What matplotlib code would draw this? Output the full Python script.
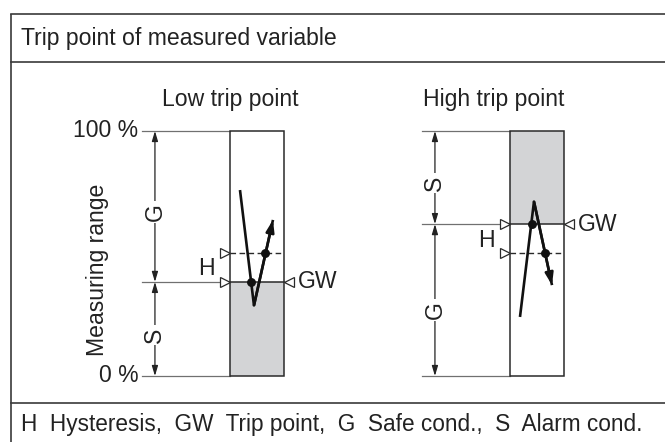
import matplotlib
matplotlib.use("Agg")
import matplotlib.pyplot as plt
from matplotlib.patches import Rectangle

plt.rcParams['font.family'] = ['Liberation Sans', 'DejaVu Sans']

# ---- data (y in % of measuring range, x in bar-width units) ----
header_text = "Trip point of measured variable"
footer_text = "H  Hysteresis,  GW  Trip point,  G  Safe cond.,  S  Alarm cond."
range_ticks = [0, 100]
range_tick_labels = ["0 %", "100 %"]
axis_label = "Measuring range"

panel_titles = ["Low trip point", "High trip point"]
trip_points = [38.4, 62.0]          # GW
hysteresis_points = [50.2, 50.2]    # dashed level
alarm_is_below = [True, False]      # S region below / above GW
trend_x = [[0.185, 0.444, 0.796], [0.185, 0.444, 0.778]]
trend_y = [[75.9, 28.8, 63.7], [24.1, 71.2, 37.1]]
dot_x = [[0.389, 0.655], [0.407, 0.648]]
dot_y = [[38.4, 50.2], [62.0, 50.2]]
s_label_y = [16.7, 78.8]
g_label_y = [67.0, 26.9]
h_label_y = [44.0, 55.5]

W, H = 665, 442
fig = plt.figure(figsize=(W / 100, H / 100), dpi=100)

# background axes in pixel coordinates for the frame
bg = fig.add_axes([0, 0, 1, 1])
bg.set_xlim(0, W)
bg.set_ylim(H, 0)
bg.axis('off')
frame_col = '#3a3a3a'
bg.plot([11, 11], [14, H + 5], color=frame_col, lw=1.2, solid_capstyle='butt')
bg.plot([11, W + 5], [14, 14], color=frame_col, lw=1.2)
bg.plot([11, W + 5], [62, 62], color=frame_col, lw=1.2)
bg.plot([11, W + 5], [403, 403], color=frame_col, lw=1.2)
txt_col = '#222222'
fs = 16.6
bg.text(21, 39, header_text, fontsize=fs, color=txt_col, va='center', ha='left')
bg.text(21, 425, footer_text, fontsize=16.3, color=txt_col, va='center', ha='left')

gray_fill = '#d3d4d6'
bar_col = '#2a2a2a'
ref_col = '#707070'
bar_left_px = [230, 510]

for i in range(2):
    ax = fig.add_axes([bar_left_px[i] / W, 1 - 376 / H, 54 / W, 245 / H])
    ax.set_xlim(0, 1)
    ax.set_ylim(0, 100)
    ax.axis('off')
    gw = trip_points[i]
    hy = hysteresis_points[i]
    ref_x0 = -1.63
    dim_x = -1.39

    # grey alarm region
    if alarm_is_below[i]:
        ax.add_patch(Rectangle((0, 0), 1, gw, facecolor=gray_fill, edgecolor='none', clip_on=False))
    else:
        ax.add_patch(Rectangle((0, gw), 1, 100 - gw, facecolor=gray_fill, edgecolor='none', clip_on=False))
    # bar outline
    ax.add_patch(Rectangle((0, 0), 1, 100, facecolor='none', edgecolor=bar_col, lw=1.1, clip_on=False, zorder=3))

    # reference lines
    for yv in [range_ticks[0], range_ticks[1], gw]:
        ax.plot([ref_x0, 0], [yv, yv], color=ref_col, lw=0.9, clip_on=False)
    ax.plot([0, 1], [gw, gw], color=bar_col, lw=1.1, clip_on=False, zorder=3)
    ax.plot([0, 1], [hy, hy], color=bar_col, lw=1.0, ls=(0, (4, 2.5)), clip_on=False, zorder=3)

    # dimension arrows
    for (a, b) in [(0, gw), (gw, 100)]:
        ax.annotate('', xy=(dim_x, a), xytext=(dim_x, b),
                    arrowprops=dict(arrowstyle='<|-|>,head_length=0.6,head_width=0.18',
                                    color='#222222', lw=0.9, shrinkA=0, shrinkB=0),
                    annotation_clip=False)
    for lab, yv in [('S', s_label_y[i]), ('G', g_label_y[i])]:
        ax.text(dim_x, yv, lab, rotation=90, fontsize=fs, color=txt_col, ha='center', va='center',
                bbox=dict(facecolor='white', edgecolor='none', pad=1.5), clip_on=False)

    # open triangle markers
    ax.plot([-0.095], [gw], marker='>', ms=7.5, mfc='white', mec=bar_col, mew=0.9, clip_on=False, zorder=4)
    ax.plot([-0.095], [hy], marker='>', ms=7.5, mfc='white', mec=bar_col, mew=0.9, clip_on=False, zorder=4)
    ax.plot([1.095], [gw], marker='<', ms=7.5, mfc='white', mec=bar_col, mew=0.9, clip_on=False, zorder=4)

    ax.text(1.25, gw, 'GW', fontsize=fs, color=txt_col, ha='left', va='center', clip_on=False)
    ax.text(-0.44, h_label_y[i], 'H', fontsize=fs, color=txt_col, ha='center', va='center', clip_on=False)

    # trend line
    tx, ty = trend_x[i], trend_y[i]
    ax.plot(tx, ty, color='#111111', lw=1.9, solid_joinstyle='miter', solid_capstyle='butt',
            clip_on=False, zorder=5)
    ax.annotate('', xy=(tx[2], ty[2]), xytext=(tx[1], ty[1]),
                arrowprops=dict(arrowstyle='-|>,head_length=0.7,head_width=0.24',
                                color='#111111', lw=1.9, shrinkA=0, shrinkB=0),
                annotation_clip=False, zorder=5)
    ax.plot(dot_x[i], dot_y[i], 'o', color='#111111', ms=5.4, clip_on=False, zorder=6)

    # panel title
    title_x = 0.0 if i == 0 else -0.3
    ax.text(title_x, 112.7, panel_titles[i], fontsize=fs, color=txt_col, ha='center', va='center', clip_on=False)

    if i == 0:
        for t, lab in zip(range_ticks, range_tick_labels):
            ax.text(-1.70, t, lab, fontsize=fs, color=txt_col, ha='right', va='center', clip_on=False)
        ax.text(-2.46, 43.3, axis_label, rotation=90, fontsize=fs, color=txt_col,
                ha='center', va='center', clip_on=False)

fig.savefig('out.png', dpi=100)
